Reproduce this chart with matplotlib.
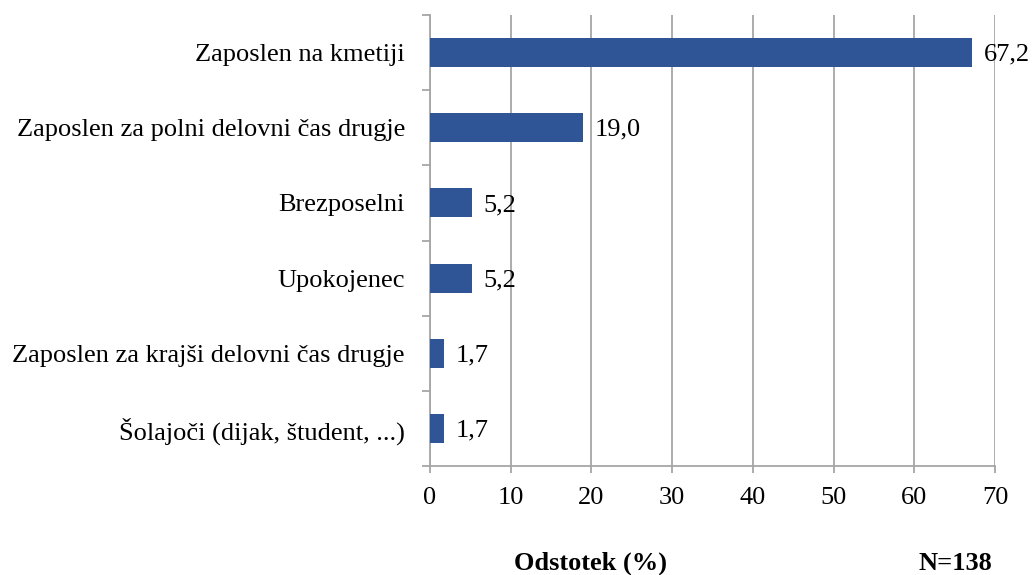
import matplotlib
matplotlib.use("Agg")
import matplotlib.pyplot as plt
import numpy as np

categories = [
    "Zaposlen na kmetiji",
    "Zaposlen za polni delovni čas drugje",
    "Brezposelni",
    "Upokojenec",
    "Zaposlen za krajši delovni čas drugje",
    "Šolajoči (dijak, študent, ...)",
]
values = [67.2, 19.0, 5.2, 5.2, 1.7, 1.7]
value_labels = ["67,2", "19,0", "5,2", "5,2", "1,7", "1,7"]
xticks = [0, 10, 20, 30, 40, 50, 60, 70]

plt.rcParams['font.family'] = ['Liberation Serif', 'DejaVu Serif']

fig = plt.figure(figsize=(10.35, 5.75), dpi=100)
ax = fig.add_axes([430/1035, 1-466/575, 565/1035, 451/575])

n = len(categories)
y = np.arange(n)[::-1]
bar_color = "#2F5597"
ax.barh(y, values, height=0.385, color=bar_color, zorder=3)

for yi, v, lab in zip(y, values, value_labels):
    ax.annotate(lab, (v, yi), xytext=(8.5, -1.5), textcoords="offset points",
                va="center", ha="left", fontsize=19, color="black", zorder=4)

ax.set_xlim(0, 70)
ax.set_ylim(-0.5, n - 0.5)
ax.set_xticks(xticks)
ax.set_xticklabels([str(t) for t in xticks], fontsize=19)
ax.set_yticks(y)
ax.set_yticklabels(categories, fontsize=19)
ax.set_yticks(np.arange(-0.5, n, 1.0), minor=True)

grid_color = "#A6A6A6"
ax.grid(axis="x", color=grid_color, linewidth=1.3, zorder=0)
ax.tick_params(axis="y", which="major", length=0, pad=18)
ax.tick_params(axis="y", which="minor", length=6, color=grid_color, width=1.3, direction="out")
ax.tick_params(axis="x", which="major", length=5, color=grid_color, width=1.3, pad=10)

for s in ["top", "right"]:
    ax.spines[s].set_visible(False)
for s in ["left", "bottom"]:
    ax.spines[s].set_color(grid_color)
    ax.spines[s].set_linewidth(1.3)

fig.text(591/1035, 1-563/575, "Odstotek (%)", ha="center", va="center",
         fontsize=19, fontweight="bold")
fig.text(955/1035, 1-563/575, "N=138", ha="center", va="center",
         fontsize=19, fontweight="bold")

fig.savefig("out.png", dpi=100)
